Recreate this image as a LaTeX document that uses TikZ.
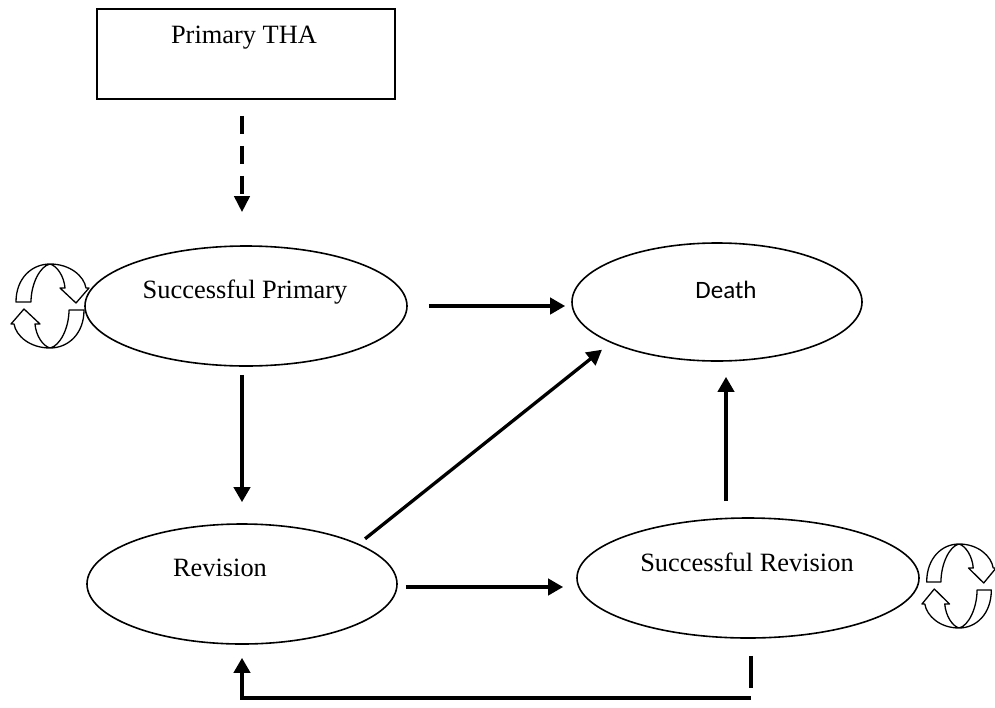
\documentclass[tikz,border=0pt]{standalone}
\usepackage{fontspec}
\setmainfont{Liberation Serif}
\newfontfamily\deathfont{Carlito}
\usetikzlibrary{arrows.meta,shapes.geometric}
\begin{document}
\begin{tikzpicture}[x=1pt,y=-1pt,
  stateell/.style={draw,ellipse,line width=1.6pt,inner sep=0pt},
  boxnode/.style={draw,rectangle,line width=1.6pt,inner sep=0pt},
  lbl/.style={anchor=base,inner sep=0pt,font=\fontsize{26.4}{30}\selectfont},
  arr/.style={line width=3.8pt,-{Triangle[length=15pt,width=16pt]}},
  dasharr/.style={line width=3.8pt,dash pattern=on 18pt off 12pt,-{Triangle[length=16pt,width=15pt]}},
  plainline/.style={line width=3.8pt},
  arrowband/.style={draw,fill=white,line width=1.3pt,line join=round},
  loopicon/.pic={
    \path[arrowband] (-34,-4) .. controls (-34,-28) and (-18,-42) .. (0,-42)
      .. controls (20,-42) and (34,-30) .. (36,-18)
      -- (39,-18) -- (26,-3) -- (10,-18) -- (15,-18)
      .. controls (14,-30) and (7,-40) .. (0,-42)
      .. controls (-10,-40) and (-19,-22) .. (-19,-4) -- cycle;
    \begin{scope}[rotate=180]
    \path[arrowband] (-34,-4) .. controls (-34,-28) and (-18,-42) .. (0,-42)
      .. controls (20,-42) and (34,-30) .. (36,-18)
      -- (39,-18) -- (26,-3) -- (10,-18) -- (15,-18)
      .. controls (14,-30) and (7,-40) .. (0,-42)
      .. controls (-10,-40) and (-19,-22) .. (-19,-4) -- cycle;
    \end{scope}
  }
]
\useasboundingbox (0,0) rectangle (995,707);

% boxes and states
\node[boxnode,minimum width=298pt,minimum height=90pt] (tha) at (246,54) {};
\node[lbl] (thalbl) at (244,43) {Primary THA};

\node[stateell,minimum width=322pt,minimum height=120pt] (sp) at (246,306) {};
\node[lbl] (splbl) at (245,298) {Successful Primary};

\node[stateell,minimum width=290pt,minimum height=118pt] (death) at (717,302) {};
\node[lbl,font=\deathfont\fontsize{25}{30}\selectfont] (deathlbl) at (726,298) {Death};

\node[stateell,minimum width=310pt,minimum height=120pt] (rev) at (242,584) {};
\node[lbl] (revlbl) at (220,576) {Revision};

\node[stateell,minimum width=342pt,minimum height=120pt] (sr) at (748,578) {};
\node[lbl] (srlbl) at (747,571) {Successful Revision};

% loop icons
\pic at (50,306) {loopicon};
\pic[xscale=0.95] at (959,586) {loopicon};

% connectors
\draw[dasharr,shorten <=16pt,shorten >=33pt] ([xshift=-4pt]tha.south) -- ([xshift=-4pt]sp.north);
\draw[arr,shorten <=8pt,shorten >=21pt] ([xshift=-4pt]sp.south) -- (rev.north);
\draw[arr,shorten <=21pt,shorten >=6pt] (sp.east) -- (sp.east -| death.west);
\draw[arr,line width=3.3pt,shorten <=8pt,shorten >=11pt] (rev.19) -- (death.201);
\draw[arr,shorten <=16pt,shorten >=15pt] ([xshift=-22pt]sr.north) -- ([xshift=-22pt]sr.north |- death.south);
\draw[arr,shorten <=8pt,shorten >=13pt] ([yshift=-3pt]rev.east) -- ([yshift=-3pt]rev.east -| sr.west);
\draw[plainline] ([xshift=3pt,yshift=-17pt]sr.south) -- ([xshift=3pt,yshift=-49pt]sr.south);
\draw[arr] ([xshift=3pt,yshift=-59pt]sr.south) -| ([yshift=-13pt]rev.south);
\end{tikzpicture}
\end{document}
